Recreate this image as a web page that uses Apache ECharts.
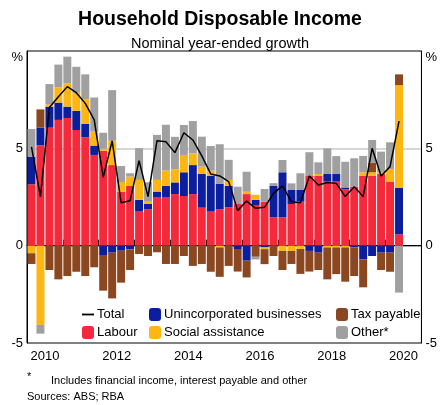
<!DOCTYPE html>
<html>
<head>
<meta charset="utf-8">
<script src="https://cdn.jsdelivr.net/npm/echarts@6/dist/echarts.min.js"></script>
<style>
html,body{margin:0;padding:0;background:#fff;}
#chart{width:440px;height:405px;}
</style>
</head>
<body>
<div id="chart"></div>
<script>
// Quarterly categories, Mar-2010 .. Dec-2020 (data to Jun-2020)
const years = ['2010','2011','2012','2013','2014','2015','2016','2017','2018','2019','2020'];
const quarters = [];
years.forEach(y => { for (let q = 1; q <= 4; q++) quarters.push(y + 'Q' + q); });

const labour = [3.15, 5.15, 6.06, 6.46, 6.56, 5.94, 5.57, 4.66, 4.88, 4.14, 2.77, 3.07, 1.75, 1.87, 2.47, 2.47, 2.65, 2.55, 2.65, 1.95, 1.75, 1.87, 1.97, 2.14, 2.65, 2.09, 2.26, 1.46, 1.46, 2.14, 2.26, 3.58, 3.58, 3.29, 3.29, 2.89, 3.03, 3.58, 3.58, 3.68, 3.29, 0.58];
const unincorporated = [1.42, 0.91, 1.08, 0.89, 0.58, 0.99, 0.68, 0.48, -0.48, -0.36, -0.26, -0.19, 0.6, 0.27, 0.31, 0.6, 0.6, 1.22, 1.49, 1.73, 1.83, 1.3, 1.1, -0.17, -0.77, 0.26, -0.09, 1.61, 2.31, 0.72, 0.6, -0.27, -0.36, 0.39, 0.39, 0.1, -0.09, -0.7, -0.53, -0.36, -0.36, 2.4];
const socialAssistance = [-0.39, -4.07, 0.12, 0.79, 1.2, 0.92, 1.28, 0.72, 0.1, 1.25, 0.5, 0.48, 1.03, 0.12, 0.6, 0.79, 0.68, 0.89, 0.6, 0.38, 0.27, -0.09, 0.31, 0, 0.12, 0.26, -0.09, 0, -0.27, -0.27, -0.17, 0, 0.1, -0.09, -0.09, -0.09, 0, 0.19, 0.19, 0.07, 0.65, 5.27];
const taxPayable = [-0.55, 0.94, -1.25, -1.73, -1.56, -1.34, -1.56, -1.11, -1.83, -2.35, -1.64, -1.06, -0.43, -0.53, -0.34, -0.94, -0.94, -0.53, -1.04, -0.94, -1.34, -1.51, -1.04, -1.16, -0.86, -0.57, -0.77, -0.53, -0.98, -0.67, -1.28, -1.06, -0.89, -1.64, -1.37, -1.76, -1.47, -1.44, 0.5, -0.89, -0.98, 0.55];
const other = [1.42, -0.45, 1.04, 1.16, 1.37, 1.34, 1.27, 1.75, 0.82, 2.6, 0.82, 0.17, 1.63, 1.0, 2.31, 2.35, 1.66, 1.54, 1.66, 1.54, 1.27, 2.04, 1.03, 0.89, 1.03, -0.14, 0.65, 0.14, 0.63, 0.34, 0.86, 1.22, 0.6, 1.32, 0.92, 1.32, 1.46, 0.84, 1.16, 1.08, 1.37, -2.41];
const total = [5.08, 2.52, 7.1, 7.65, 8.17, 7.86, 7.31, 6.46, 3.51, 5.39, 2.21, 2.31, 4.37, 2.52, 5.39, 5.34, 4.78, 5.8, 5.43, 4.61, 3.68, 3.58, 3.29, 1.8, 2.29, 1.92, 1.97, 2.69, 3.07, 2.26, 2.21, 3.58, 3.12, 3.24, 3.2, 2.52, 3.03, 2.52, 5.0, 3.58, 4.06, 6.4];
const yTicks = {'-5': '-5', '0': '0', '5': '5', '10': '{p|%}'};

const FONT = 'Arial, "Liberation Sans", sans-serif';
const chart = echarts.init(document.getElementById('chart'), null, {renderer: 'canvas'});

function barSeries(name, data, color) {
  return {
    name: name, type: 'bar', stack: 'hdi', data: data,
    barCategoryGap: '11%',
    itemStyle: {color: color},
    emphasis: {disabled: true},
    animation: false
  };
}

const yLabel = {
  fontSize: 13, color: '#000', fontFamily: FONT,
  formatter: v => yTicks[String(v)],
  rich: {p: {fontSize: 13, color: '#000', fontFamily: FONT, padding: [12, 0, 0, 0]}}
};
const legendText = {fontSize: 13, color: '#000', fontFamily: FONT, padding: [0, 0, 0, -2]};

const option = {
  animation: false,
  textStyle: {fontFamily: FONT},
  title: [
    {text: 'Household Disposable Income', left: 'center', top: 5,
     textStyle: {fontSize: 19.5, fontWeight: 'bold', color: '#000', fontFamily: FONT}},
    {text: 'Nominal year-ended growth', left: 'center', top: 31,
     textStyle: {fontSize: 14.5, fontWeight: 'normal', color: '#000', fontFamily: FONT}}
  ],
  grid: {left: 27, right: 18, top: 51, bottom: 62, show: true, borderColor: '#000', borderWidth: 1, containLabel: false},
  legend: [
    {data: [{name: 'Total', icon: 'path://M0,0L13,0L13,2L0,2Z'}, 'Labour'], orient: 'vertical', left: 77, top: 303,
     itemWidth: 12, itemHeight: 13, itemGap: 5, textStyle: legendText, selectedMode: false},
    {data: ['Unincorporated businesses', 'Social assistance'], orient: 'vertical', left: 144, top: 303,
     itemWidth: 12, itemHeight: 13, itemGap: 5, textStyle: legendText, selectedMode: false},
    {data: ['Tax payable', 'Other*'], orient: 'vertical', left: 331, top: 303,
     itemWidth: 12, itemHeight: 13, itemGap: 5, textStyle: legendText, selectedMode: false}
  ],
  xAxis: [
    {type: 'category', data: quarters, position: 'bottom', boundaryGap: true,
     axisLine: {show: false}, axisTick: {show: false}, axisLabel: {show: false}, splitLine: {show: false}},
    {type: 'category', data: years, position: 'bottom', boundaryGap: true,
     axisLine: {show: true, lineStyle: {color: '#000', width: 1}},
     axisTick: {show: true, inside: true, length: 6, interval: 0, lineStyle: {color: '#000'}},
     axisLabel: {show: true, interval: (i, v) => Number(v) % 2 === 0, fontSize: 13, color: '#000', margin: 7, fontFamily: FONT},
     splitLine: {show: false}}
  ],
  yAxis: [
    {type: 'value', min: -5, max: 10, interval: 5, position: 'left',
     axisLine: {show: true, lineStyle: {color: '#000'}}, axisTick: {show: false},
     axisLabel: Object.assign({margin: 4}, yLabel),
     splitLine: {show: true, lineStyle: {color: ['rgba(0,0,0,0)', '#8c8c8c', '#c8c8c8', 'rgba(0,0,0,0)'], width: 1.5}}},
    {type: 'value', min: -5, max: 10, interval: 5, position: 'right',
     axisLine: {show: true, lineStyle: {color: '#000'}}, axisTick: {show: false},
     axisLabel: Object.assign({margin: 4}, yLabel),
     splitLine: {show: false}}
  ],
  series: [
    barSeries('Labour', labour, '#f42a3c'),
    barSeries('Unincorporated businesses', unincorporated, '#0a1e9e'),
    barSeries('Social assistance', socialAssistance, '#ffb612'),
    barSeries('Tax payable', taxPayable, '#8b4720'),
    barSeries('Other*', other, '#a0a0a0'),
    {name: 'Total', type: 'line', data: total, symbol: 'none', showSymbol: false,
     lineStyle: {color: '#000', width: 1.5}, itemStyle: {color: '#000'}, z: 5, emphasis: {disabled: true}, animation: false}
  ],
  graphic: [
    {type: 'text', left: 27, top: 371, style: {text: '*', fontSize: 11, fill: '#000', fontFamily: FONT}},
    {type: 'text', left: 51, top: 375, style: {text: 'Includes financial income, interest payable and other', fontSize: 11, fill: '#000', fontFamily: FONT}},
    {type: 'text', left: 27, top: 391, style: {text: 'Sources: ABS; RBA', fontSize: 11, fill: '#000', fontFamily: FONT}}
  ]
};
chart.setOption(option);
</script>
</body>
</html>
